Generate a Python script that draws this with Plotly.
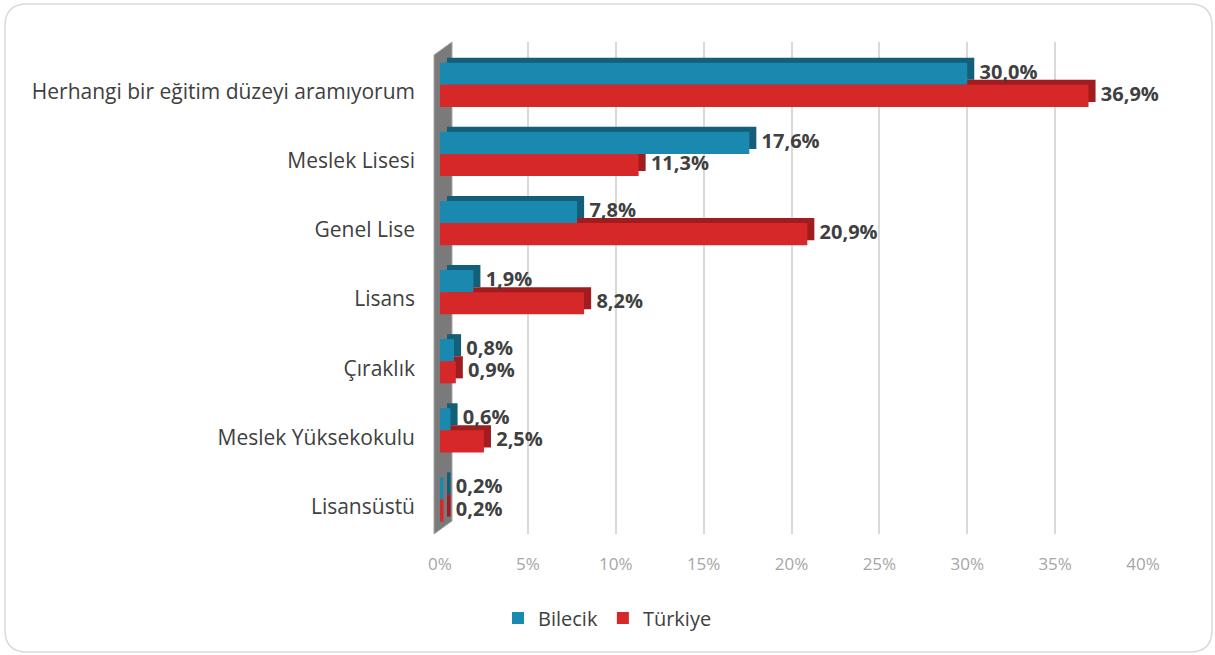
"""Eğitim düzeyi tercihi: Bilecik ve Türkiye karşılaştırması."""

import plotly.graph_objects as go

categories = [
    "Herhangi bir eğitim düzeyi aramıyorum",
    "Meslek Lisesi",
    "Genel Lise",
    "Lisans",
    "Çıraklık",
    "Meslek Yüksekokulu",
    "Lisansüstü",
]
bilecik = [30.0, 17.6, 7.8, 1.9, 0.8, 0.6, 0.2]
turkiye = [36.9, 11.3, 20.9, 8.2, 0.9, 2.5, 0.2]
x_ticks = [0, 5, 10, 15, 20, 25, 30, 35, 40]

BLUE = "#1a89af"
BLUE_DARK = "#135e78"
RED = "#d62828"
RED_DARK = "#a01c1e"
TEXT = "#404040"
FONT = "Open Sans"

# figure geometry (pixels)
W, H = 1215, 655
L, R, T, B = 440, 72, 42, 121
BAR_W = 0.32      # bar thickness in category units
DEPTH_X = 0.4     # 3D side depth in % units
DEPTH_Y = 0.072   # 3D top depth in category units
LABEL_PAD = 0.3   # gap between bar end and value label, % units


def px(x):
    return (x - L) / (W - L - R)


def py(y):
    return (H - B - y) / (H - T - B)


pos = list(range(len(categories)))

fig = go.Figure()

# pseudo-3D back faces, drawn first
for vals, dark, off in [(bilecik, BLUE_DARK, -BAR_W), (turkiye, RED_DARK, 0.0)]:
    fig.add_trace(
        go.Bar(
            y=pos,
            x=vals,
            base=DEPTH_X,
            orientation="h",
            offset=off - DEPTH_Y,
            width=BAR_W,
            marker={"color": dark, "line": {"width": 0}},
            showlegend=False,
            hoverinfo="skip",
        )
    )

for name, vals, color, off in [
    ("Bilecik", bilecik, BLUE, -BAR_W),
    ("Türkiye", turkiye, RED, 0.0),
]:
    fig.add_trace(
        go.Bar(
            y=pos,
            x=vals,
            name=name,
            orientation="h",
            offset=off,
            width=BAR_W,
            marker={"color": color, "line": {"width": 0}},
            hovertemplate="%{x:.1f}%<extra>" + name + "</extra>",
        )
    )

for vals, shift in [(bilecik, -BAR_W / 2), (turkiye, BAR_W / 2)]:
    fig.add_trace(
        go.Scatter(
            x=[v + DEPTH_X + LABEL_PAD for v in vals],
            y=[p + shift for p in pos],
            mode="text",
            text=[f"{v:.1f}%".replace(".", ",") for v in vals],
            textposition="middle right",
            textfont={"family": FONT, "size": 20, "color": TEXT, "weight": "bold"},
            showlegend=False,
            hoverinfo="skip",
            cliponaxis=False,
        )
    )

# back wall at 0%
fig.add_shape(
    type="path",
    xref="paper",
    yref="paper",
    path=(
        f"M {px(434)},{py(55)} L {px(452)},{py(42)} "
        f"L {px(452)},{py(521)} L {px(434)},{py(534)} Z"
    ),
    fillcolor="#7a7a7a",
    line={"color": "#a6a6a6", "width": 1},
    layer="between",
)

# rounded outer border
x0, y0, x1, y1, rr = 5, 4, 1212, 652, 22
fig.add_shape(
    type="path",
    xref="paper",
    yref="paper",
    path=(
        f"M {px(x0 + rr)},{py(y0)} L {px(x1 - rr)},{py(y0)} "
        f"Q {px(x1)},{py(y0)} {px(x1)},{py(y0 + rr)} "
        f"L {px(x1)},{py(y1 - rr)} Q {px(x1)},{py(y1)} {px(x1 - rr)},{py(y1)} "
        f"L {px(x0 + rr)},{py(y1)} Q {px(x0)},{py(y1)} {px(x0)},{py(y1 - rr)} "
        f"L {px(x0)},{py(y0 + rr)} Q {px(x0)},{py(y0)} {px(x0 + rr)},{py(y0)} Z"
    ),
    line={"color": "#d9d9d9", "width": 1.5},
    layer="above",
)

fig.update_layout(
    width=W,
    height=H,
    barmode="overlay",
    plot_bgcolor="white",
    paper_bgcolor="white",
    margin={"l": L, "r": R, "t": T, "b": B},
    font={"family": FONT, "color": TEXT},
    legend={
        "orientation": "h",
        "xref": "container",
        "yref": "container",
        "x": 0.5,
        "xanchor": "center",
        "y": 1 - 618 / H,
        "yanchor": "middle",
        "font": {"size": 20, "color": TEXT},
        "itemwidth": 30,
    },
)
fig.update_xaxes(
    range=[0, 40],
    tickvals=x_ticks,
    ticktext=[f"{t}%" for t in x_ticks],
    tickfont={"size": 17, "color": "#a6a6a6"},
    showgrid=True,
    gridcolor="#d9d9d9",
    gridwidth=1.5,
    zeroline=False,
    showline=False,
    ticks="",
    ticklabelstandoff=18,
    fixedrange=True,
)
fig.update_yaxes(
    range=[6.5, -0.62],
    tickvals=[p + 0.1 for p in pos],
    ticktext=categories,
    tickfont={"size": 21, "color": TEXT},
    showgrid=False,
    zeroline=False,
    showline=False,
    ticks="",
    ticklabelstandoff=24,
    fixedrange=True,
)

fig.write_html(
    "out.html",
    config={"displayModeBar": False},
    post_script="document.body.style.margin='0';document.body.style.overflow='hidden';",
)
